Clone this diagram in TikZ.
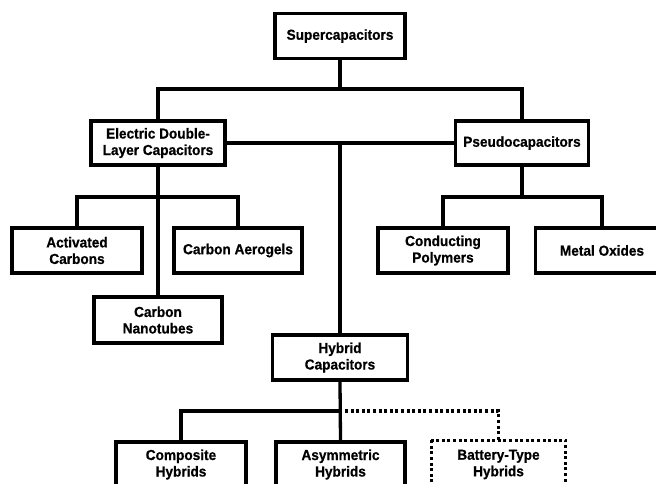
\documentclass[tikz,border=0pt]{standalone}
\usepackage{fontspec}
\setmainfont{Liberation Sans}
\newfontfamily\boxfont[FakeStretch=0.94,FakeBold=0.6]{Liberation Sans Bold}
\begin{document}
\begin{tikzpicture}[x=1pt,y=-1pt,
  box/.style={draw=black,line width=3.6pt,fill=white,align=center,inner sep=0pt,
    font=\boxfont\fontsize{14.5}{16.5}\selectfont},
  conn/.style={draw=black,line width=3.3pt},
  dotconn/.style={draw=black,line width=3.3pt,dash pattern=on 3pt off 2.6pt}]
\clip (0,0) rectangle (656,483);
\useasboundingbox (0,0) rectangle (656,483);
\fill[white] (0,0) rectangle (656,483);
% nodes
\node[box,minimum width=130pt,minimum height=45pt] (super) at (340,36) {Supercapacitors};
\node[box,minimum width=134pt,minimum height=44pt] (edlc) at (158,143) {Electric Double-\\Layer Capacitors};
\node[box,minimum width=133pt,minimum height=44pt] (pseudo) at (522,143) {Pseudocapacitors};
\node[box,minimum width=130pt,minimum height=45pt] (act) at (77,250.5) {Activated\\Carbons};
\node[box,minimum width=128pt,minimum height=45pt] (aer) at (238,250.5) {Carbon Aerogels};
\node[box,minimum width=128pt,minimum height=46pt] (nano) at (158,320) {Carbon\\Nanotubes};
\node[box,minimum width=130pt,minimum height=45pt] (cond) at (443,250.5) {Conducting\\Polymers};
\node[box,minimum width=133pt,minimum height=45pt] (metal) at (602,250.5) {Metal Oxides};
\node[box,minimum width=135pt,minimum height=45pt] (hyb) at (340,357.5) {Hybrid\\Capacitors};
\node[box,minimum width=130pt,minimum height=45pt] (comp) at (181,464.5) {Composite\\Hybrids};
\node[box,minimum width=129pt,minimum height=45pt] (asym) at (340.5,464.5) {Asymmetric\\Hybrids};
\node[box,draw=none,minimum width=131pt,minimum height=45pt] (batt) at (498.5,464.5) {Battery-Type\\Hybrids};
\draw[dotconn] (batt.north west) rectangle (batt.south east);
% junctions
\coordinate (j1) at (340,89);
\coordinate (j2) at (158,197);
\coordinate (j3) at (522,197);
\coordinate (j4) at (340,411);
\coordinate (j5) at (345,411);
% connectors
\draw[conn] (super.south) -- (j1);
\draw[conn] (edlc.north) |- (j1) -| (pseudo.north);
\draw[conn] (edlc.east) -- (pseudo.west);
\draw[conn] (hyb.north) -- (hyb.north |- edlc.east);
\draw[conn] (act.north) |- (j2) -| (aer.north);
\draw[conn] (edlc.south) -- (nano.north);
\draw[conn] (cond.north) |- (j3) -| (metal.north);
\draw[conn] (pseudo.south) -- (j3);
\draw[conn] (comp.north) |- (j4);
\draw[conn] (hyb.south) -- (asym.north);
\draw[dotconn] (j5) -| (batt.north);
\end{tikzpicture}
\end{document}
